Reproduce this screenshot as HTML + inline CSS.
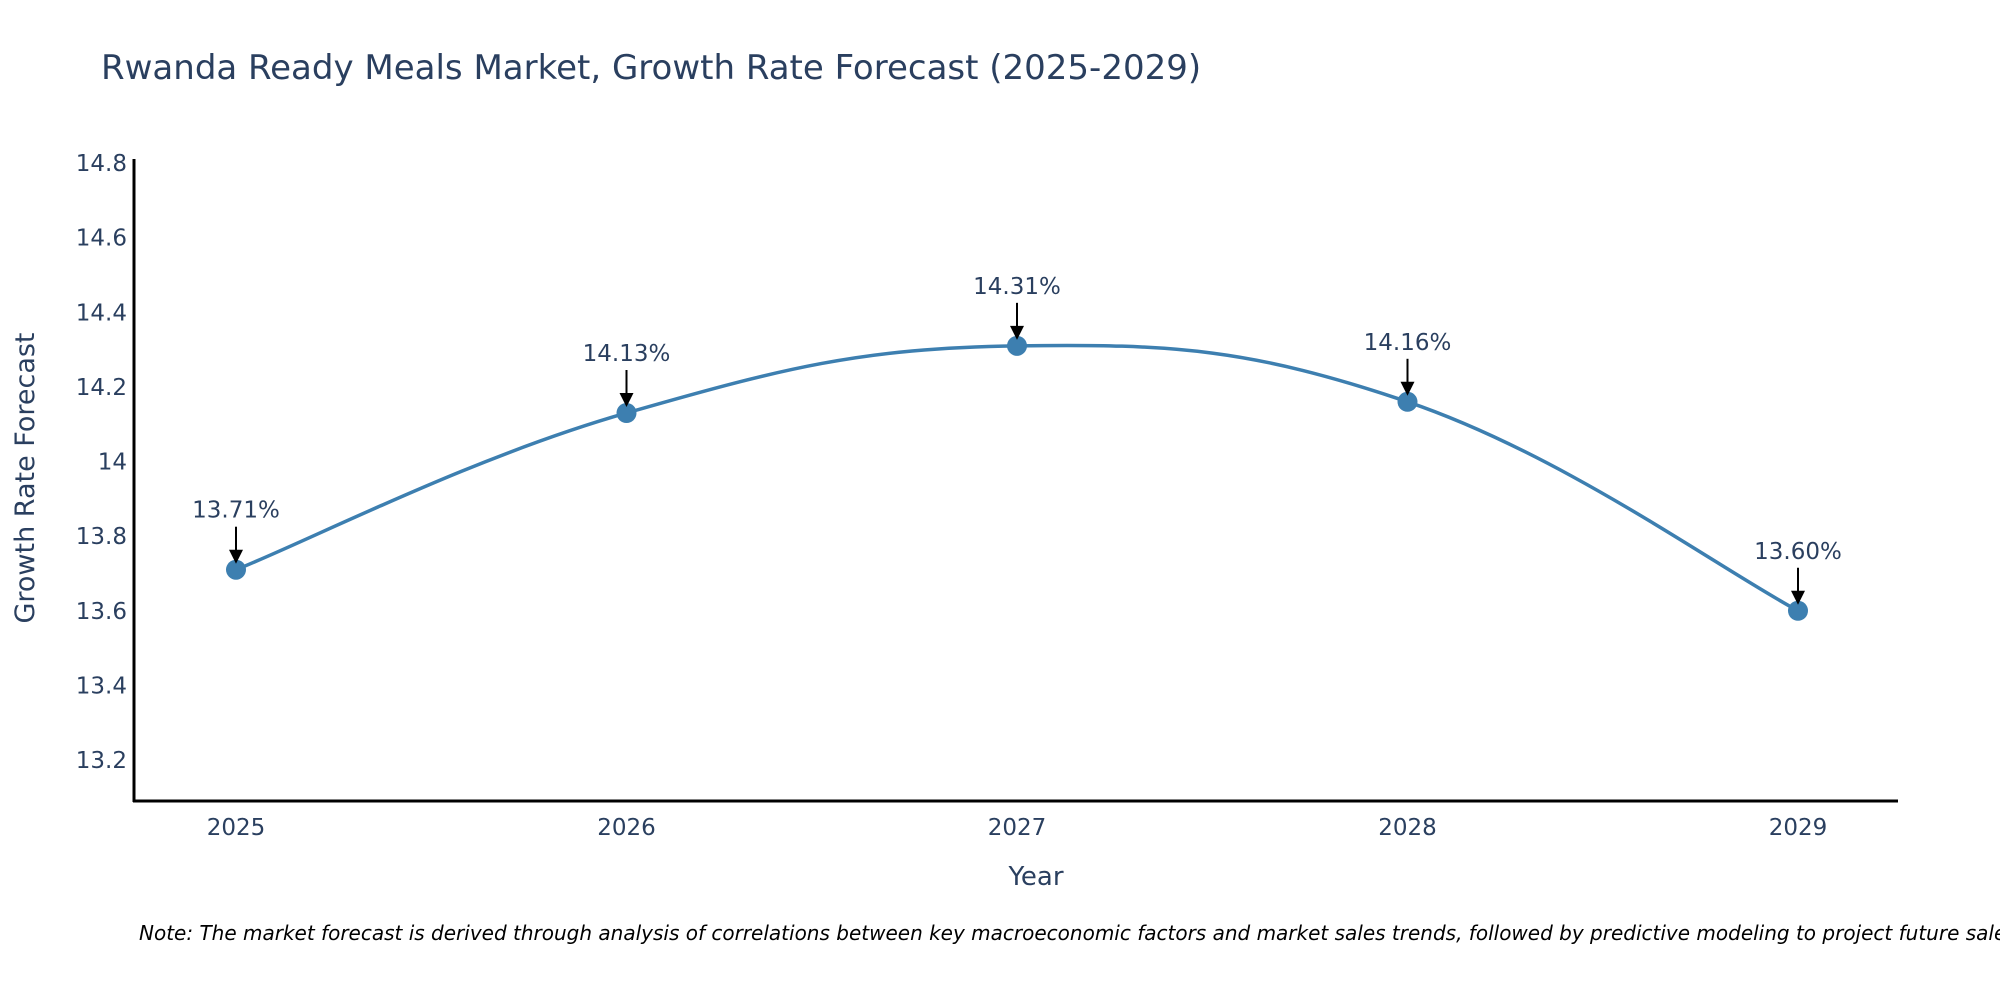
<!DOCTYPE html>
<html><head><meta charset="utf-8"><style>
body{margin:0;background:#fff;}
svg{display:block;font-family:"DejaVu Sans","Liberation Sans",Arial,sans-serif;}
</style></head><body>
<svg id="chart" width="2000" height="1000">
<text x="101" y="79" font-size="34" fill="#2a3f5f">Rwanda Ready Meals Market, Growth Rate Forecast (2025-2029)</text>
<g id="yticks"></g>
<g id="xticks"></g>
<line x1="134" y1="159" x2="134" y2="802" stroke="#000" stroke-width="3"/>
<line x1="133" y1="801" x2="1898" y2="801" stroke="#000" stroke-width="3"/>
<path id="line" fill="none" stroke="#3d7fb0" stroke-width="3.5"/>
<g id="marks"></g>
<text transform="translate(34,478) rotate(-90)" text-anchor="middle" font-size="27" fill="#2a3f5f">Growth Rate Forecast</text>
<text x="1036" y="885" text-anchor="middle" font-size="26" fill="#2a3f5f">Year</text>
<text x="139" y="940" font-size="20" font-style="italic" fill="#000">Note: The market forecast is derived through analysis of correlations between key macroeconomic factors and market sales trends, followed by predictive modeling to project future sales.</text>
</svg>
<script>
const years=["2025","2026","2027","2028","2029"];
const values=[13.71,14.13,14.31,14.16,13.60];
const labels=["13.71%","14.13%","14.31%","14.16%","13.60%"];
const yTicks=[13.2,13.4,13.6,13.8,14,14.2,14.4,14.6,14.8];
const NS="http://www.w3.org/2000/svg";
const x=i=>236+i*(1798-236)/(years.length-1);
const y=v=>760-(v-13.2)*(760-163)/1.6;
function mk(t,a){const e=document.createElementNS(NS,t);for(const k in a)e.setAttribute(k,a[k]);return e;}
const yt=document.getElementById('yticks');
yTicks.forEach(v=>{const t=mk('text',{x:127,y:y(v)+8,'text-anchor':'end','font-size':23,fill:'#2a3f5f'});


t.textContent=String(v);yt.appendChild(t);});
const xt=document.getElementById('xticks');
years.forEach((s,i)=>{const t=mk('text',{x:x(i),y:835,'text-anchor':'middle','font-size':23,fill:'#2a3f5f'});


t.textContent=s;xt.appendChild(t);});
const P=values.map((v,i)=>[x(i),y(v)]);
let d=`M${P[0][0]},${P[0][1]}`;const s=0.2;
for(let i=0;i<P.length-1;i++){const p0=P[Math.max(0,i-1)],p1=P[i],p2=P[i+1],p3=P[Math.min(P.length-1,i+2)];
const c1=[p1[0]+(p2[0]-p0[0])*s,p1[1]+(p2[1]-p0[1])*s],c2=[p2[0]-(p3[0]-p1[0])*s,p2[1]-(p3[1]-p1[1])*s];
d+=` C${c1[0]},${c1[1]} ${c2[0]},${c2[1]} ${p2[0]},${p2[1]}`;}
document.getElementById('line').setAttribute('d',d);
const g=document.getElementById('marks');
P.forEach((p,i)=>{
const c=mk('circle',{cx:p[0],cy:p[1],r:10,fill:'#3d7fb0'});


g.appendChild(c);
const l=mk('line',{x1:p[0],y1:p[1]-43,x2:p[0],y2:p[1]-18,stroke:'#000','stroke-width':2});


g.appendChild(l);
const h=mk('polygon',{points:`${p[0]-7},${p[1]-20} ${p[0]+7},${p[1]-20} ${p[0]},${p[1]-6}`,fill:'#000'});


g.appendChild(h);
const t=mk('text',{x:p[0],y:p[1]-52,'text-anchor':'middle','font-size':23,fill:'#2a3f5f'});


t.textContent=labels[i];g.appendChild(t);});
</script>
</body></html>
